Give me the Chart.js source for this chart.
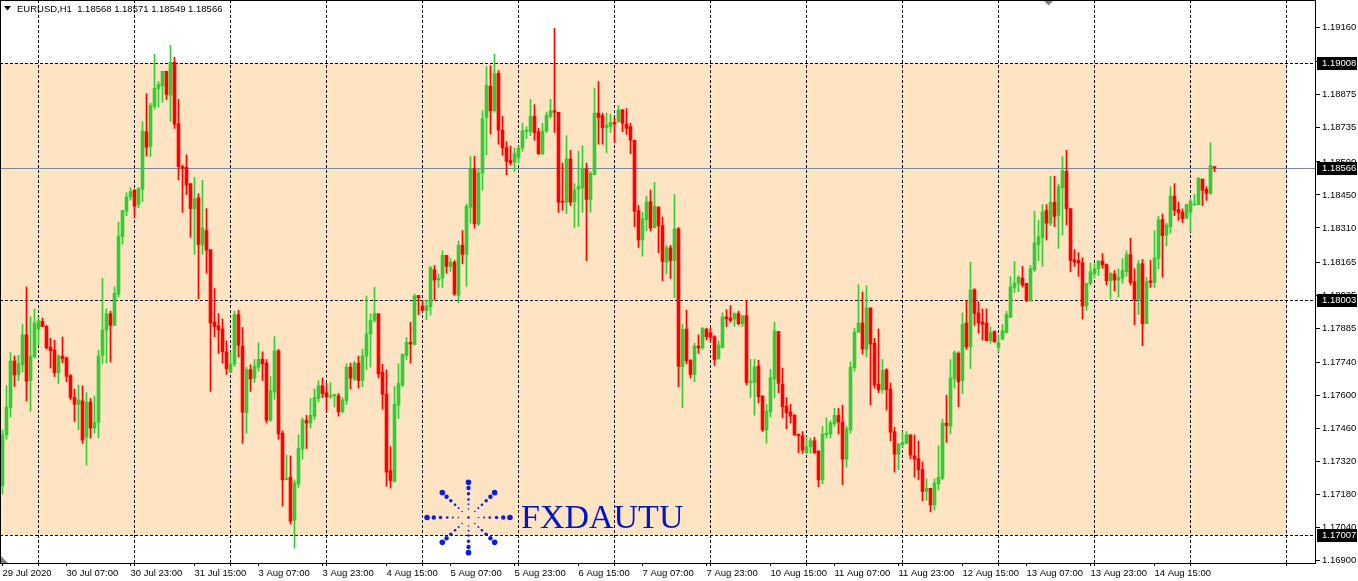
<!DOCTYPE html>
<html><head><meta charset="utf-8">
<script src="https://cdn.jsdelivr.net/npm/chart.js@4.4.1/dist/chart.umd.min.js"></script>
<style>html,body{margin:0;padding:0;background:#fff;overflow:hidden}canvas{display:block}</style>
</head><body>
<canvas id="c" width="1358" height="581"></canvas>
<script>
const symbolName = "EURUSD,H1";
const openP = [
1.17217,1.17433,1.17548,1.17746,1.17689,1.17730,1.17857,1.17663,1.17763,1.17881,1.17914,1.17892,1.17805,1.17793,1.17696,1.17767,
1.17759,1.17684,1.17591,1.17562,1.17577,1.17423,1.17572,1.17462,1.17486,1.17770,1.17878,1.17946,1.17897,1.18029,1.18273,1.18381,
1.18441,1.18470,1.18409,1.18474,1.18718,1.18656,1.18826,1.18900,1.18912,1.18974,1.18873,1.19012,1.18752,1.18570,1.18567,1.18498,
1.18392,1.18438,1.18237,1.18299,1.18218,1.17911,1.17895,1.17882,1.17785,1.17699,1.17734,1.17943,1.17809,1.17526,1.17709,1.17674,
1.17720,1.17753,1.17737,1.17495,1.17615,1.17789,1.17440,1.17243,1.17253,1.17071,1.17225,1.17373,1.17495,1.17483,1.17512,1.17587,
1.17641,1.17612,1.17594,1.17598,1.17598,1.17531,1.17579,1.17720,1.17670,1.17737,1.17663,1.17766,1.17861,1.17918,1.17946,1.17699,
1.17605,1.17282,1.17236,1.17559,1.17644,1.17770,1.17825,1.17816,1.18024,1.17979,1.17960,1.17976,1.18132,1.18091,1.18098,1.18194,
1.18147,1.18165,1.18024,1.18237,1.18198,1.18398,1.18560,1.18327,1.18543,1.18778,1.18911,1.18807,1.18965,1.18725,1.18651,1.18596,
1.18589,1.18608,1.18649,1.18718,1.18718,1.18783,1.18718,1.18625,1.18721,1.18783,1.18807,1.18800,1.18422,1.18419,1.18603,1.18421,
1.18474,1.18481,1.18560,1.18431,1.18536,1.18797,1.18787,1.18735,1.18740,1.18757,1.18761,1.18811,1.18750,1.18740,1.18682,1.18384,
1.18259,1.18345,1.18421,1.18312,1.18399,1.18320,1.18164,1.18226,1.18172,1.18306,1.17723,1.17881,1.17749,1.17689,1.17809,1.17802,
1.17881,1.17866,1.17849,1.17756,1.17802,1.17933,1.17928,1.17924,1.17947,1.17904,1.17938,1.17655,1.17655,1.17724,1.17598,1.17454,
1.17531,1.17670,1.17871,1.17648,1.17555,1.17529,1.17516,1.17436,1.17429,1.17357,1.17383,1.17408,1.17364,1.17242,1.17433,1.17437,
1.17480,1.17515,1.17487,1.17330,1.17454,1.17717,1.17868,1.17907,1.17796,1.17971,1.17821,1.17648,1.17624,1.17709,1.17627,1.17447,
1.17350,1.17390,1.17397,1.17433,1.17344,1.17332,1.17286,1.17193,1.17206,1.17136,1.17225,1.17249,1.17483,1.17469,1.17670,1.17778,
1.17663,1.17907,1.17806,1.18048,1.17950,1.17911,1.17907,1.17832,1.17871,1.17803,1.17839,1.17866,1.17931,1.18058,1.18076,1.18098,
1.18075,1.18000,1.18132,1.18240,1.18270,1.18384,1.18330,1.18419,1.18363,1.18481,1.18549,1.18392,1.18175,1.18172,1.18162,1.17979,
1.18075,1.18115,1.18137,1.18170,1.18155,1.18086,1.18115,1.18089,1.18098,1.18125,1.18197,1.18082,1.18007,1.18158,1.17904,1.18086,
1.18079,1.18180,1.18345,1.18280,1.18316,1.18445,1.18388,1.18378,1.18352,1.18376,1.18408,1.18409,1.18517,1.18474,1.18457,1.18568];
const highP = [
1.17454,1.17641,1.17782,1.17767,1.17770,1.17902,1.18060,1.17933,1.17967,1.17931,1.17928,1.17897,1.17842,1.17835,1.17773,1.17848,
1.17763,1.17689,1.17627,1.17644,1.17641,1.17612,1.17587,1.17598,1.17792,1.18096,1.17967,1.17957,1.18060,1.18335,1.18384,1.18460,
1.18481,1.18474,1.18481,1.18761,1.18879,1.18840,1.19046,1.18931,1.18974,1.18974,1.19084,1.19034,1.18855,1.18577,1.18620,1.18498,
1.18524,1.18455,1.18513,1.18392,1.18218,1.18053,1.17947,1.17924,1.17831,1.17782,1.17957,1.17961,1.17888,1.17720,1.17730,1.17753,
1.17824,1.17785,1.17752,1.17680,1.17849,1.17795,1.17450,1.17347,1.17344,1.17242,1.17433,1.17505,1.17516,1.17588,1.17627,1.17663,
1.17674,1.17651,1.17655,1.17605,1.17608,1.17591,1.17734,1.17737,1.17745,1.17767,1.17796,1.18022,1.17946,1.18058,1.17946,1.17732,
1.17709,1.17383,1.17638,1.17734,1.17775,1.17846,1.17910,1.18029,1.18024,1.18003,1.18003,1.18147,1.18151,1.18115,1.18213,1.18194,
1.18180,1.18172,1.18254,1.18299,1.18412,1.18613,1.18613,1.18560,1.18807,1.18994,1.18998,1.19046,1.18977,1.18783,1.18675,1.18658,
1.18649,1.18654,1.18754,1.18740,1.18855,1.18833,1.18732,1.18754,1.18801,1.18855,1.19156,1.18800,1.18585,1.18701,1.18639,1.18498,
1.18635,1.18658,1.18585,1.18549,1.18902,1.18931,1.18797,1.18797,1.18793,1.18776,1.18829,1.18811,1.18816,1.18754,1.18682,1.18405,
1.18376,1.18445,1.18471,1.18503,1.18399,1.18356,1.18237,1.18237,1.18452,1.18312,1.17902,1.17961,1.17752,1.17821,1.17857,1.17888,
1.17885,1.17885,1.17854,1.17831,1.17950,1.17964,1.17981,1.17950,1.17957,1.17938,1.18003,1.17753,1.17753,1.17749,1.17598,1.17562,
1.17710,1.17911,1.17871,1.17716,1.17591,1.17562,1.17519,1.17436,1.17447,1.17423,1.17419,1.17423,1.17366,1.17469,1.17505,1.17493,
1.17545,1.17545,1.17559,1.17469,1.17742,1.17885,1.18069,1.18039,1.18065,1.17971,1.17842,1.17882,1.17752,1.17713,1.17653,1.17465,
1.17397,1.17447,1.17447,1.17433,1.17433,1.17407,1.17318,1.17246,1.17206,1.17246,1.17386,1.17500,1.17601,1.17752,1.17789,1.17785,
1.17950,1.18003,1.18165,1.18053,1.17997,1.17967,1.17967,1.17890,1.17874,1.17857,1.17900,1.17957,1.18104,1.18168,1.18108,1.18147,
1.18075,1.18151,1.18381,1.18342,1.18409,1.18409,1.18529,1.18529,1.18496,1.18613,1.18639,1.18392,1.18218,1.18205,1.18184,1.18076,
1.18162,1.18158,1.18172,1.18201,1.18158,1.18119,1.18129,1.18137,1.18180,1.18213,1.18266,1.18137,1.18172,1.18177,1.18101,1.18172,
1.18299,1.18359,1.18369,1.18330,1.18485,1.18498,1.18419,1.18391,1.18412,1.18431,1.18452,1.18524,1.18517,1.18485,1.18672,1.18571];
const lowP = [
1.17182,1.17414,1.17509,1.17638,1.17663,1.17699,1.17577,1.17533,1.17759,1.17816,1.17892,1.17796,1.17716,1.17680,1.17651,1.17739,
1.17658,1.17581,1.17490,1.17454,1.17397,1.17304,1.17419,1.17440,1.17419,1.17734,1.17737,1.17742,1.17897,1.18017,1.18241,1.18362,
1.18428,1.18352,1.18395,1.18421,1.18615,1.18613,1.18814,1.18822,1.18843,1.18855,1.18761,1.18732,1.18514,1.18376,1.18452,1.18270,
1.18198,1.18010,1.18198,1.18118,1.17617,1.17849,1.17778,1.17737,1.17689,1.17699,1.17723,1.17763,1.17397,1.17440,1.17617,1.17655,
1.17703,1.17663,1.17483,1.17490,1.17584,1.17414,1.17131,1.17242,1.17055,1.16952,1.17210,1.17330,1.17375,1.17462,1.17498,1.17572,
1.17591,1.17533,1.17587,1.17551,1.17512,1.17526,1.17562,1.17627,1.17663,1.17631,1.17637,1.17709,1.17720,1.17911,1.17674,1.17541,
1.17215,1.17207,1.17232,1.17502,1.17637,1.17752,1.17737,1.17813,1.17943,1.17960,1.17921,1.17940,1.18004,1.18058,1.18058,1.18118,
1.18126,1.18024,1.17993,1.18158,1.18062,1.18330,1.18309,1.18320,1.18470,1.18620,1.18708,1.18801,1.18665,1.18618,1.18536,1.18577,
1.18550,1.18586,1.18635,1.18689,1.18701,1.18682,1.18622,1.18620,1.18715,1.18776,1.18715,1.18376,1.18385,1.18371,1.18405,1.18312,
1.18316,1.18376,1.18172,1.18376,1.18536,1.18665,1.18665,1.18628,1.18715,1.18672,1.18758,1.18718,1.18707,1.18625,1.18316,1.18227,
1.18190,1.18299,1.18297,1.18309,1.18205,1.18086,1.18115,1.18096,1.18014,1.17637,1.17548,1.17734,1.17674,1.17658,1.17778,1.17795,
1.17835,1.17832,1.17727,1.17753,1.17802,1.17892,1.17911,1.17892,1.17900,1.17892,1.17645,1.17591,1.17516,1.17569,1.17447,1.17397,
1.17509,1.17591,1.17612,1.17505,1.17459,1.17483,1.17430,1.17357,1.17354,1.17354,1.17354,1.17354,1.17213,1.17225,1.17419,1.17419,
1.17469,1.17437,1.17222,1.17296,1.17440,1.17703,1.17868,1.17775,1.17763,1.17559,1.17631,1.17612,1.17610,1.17538,1.17408,1.17275,
1.17285,1.17383,1.17394,1.17332,1.17253,1.17242,1.17153,1.17156,1.17106,1.17114,1.17199,1.17243,1.17401,1.17437,1.17631,1.17552,
1.17608,1.17795,1.17713,1.17897,1.17864,1.17835,1.17832,1.17821,1.17825,1.17785,1.17835,1.17864,1.17931,1.18036,1.18040,1.18060,
1.17997,1.18000,1.18125,1.18172,1.18147,1.18259,1.18320,1.18316,1.18223,1.18280,1.18323,1.18125,1.18147,1.18105,1.17924,1.17960,
1.18068,1.18098,1.18108,1.18139,1.18068,1.18010,1.18043,1.18017,1.18075,1.18105,1.18068,1.17900,1.17943,1.17811,1.17904,1.18058,
1.18058,1.18137,1.18101,1.18234,1.18287,1.18362,1.18342,1.18333,1.18348,1.18295,1.18405,1.18409,1.18405,1.18427,1.18452,1.18549];
const closeP = [
1.17433,1.17551,1.17746,1.17687,1.17734,1.17857,1.17660,1.17767,1.17907,1.17917,1.17892,1.17802,1.17790,1.17696,1.17767,1.17756,
1.17681,1.17591,1.17562,1.17581,1.17411,1.17572,1.17462,1.17486,1.17767,1.17878,1.17946,1.17897,1.18033,1.18276,1.18384,1.18441,
1.18464,1.18402,1.18477,1.18721,1.18652,1.18829,1.18902,1.18919,1.18974,1.18876,1.19012,1.18750,1.18570,1.18563,1.18491,1.18392,
1.18434,1.18240,1.18309,1.18216,1.17907,1.17892,1.17878,1.17785,1.17713,1.17734,1.17943,1.17813,1.17529,1.17709,1.17670,1.17724,
1.17753,1.17734,1.17495,1.17620,1.17789,1.17437,1.17242,1.17249,1.17067,1.17228,1.17375,1.17495,1.17483,1.17516,1.17591,1.17641,
1.17608,1.17594,1.17601,1.17605,1.17531,1.17581,1.17720,1.17673,1.17737,1.17663,1.17767,1.17861,1.17918,1.17947,1.17691,1.17605,
1.17275,1.17239,1.17562,1.17651,1.17775,1.17825,1.17818,1.18022,1.18014,1.17960,1.17979,1.18141,1.18089,1.18098,1.18194,1.18147,
1.18165,1.18029,1.18237,1.18198,1.18402,1.18560,1.18327,1.18543,1.18773,1.18915,1.18807,1.18965,1.18725,1.18649,1.18592,1.18585,
1.18625,1.18649,1.18721,1.18725,1.18783,1.18714,1.18625,1.18721,1.18787,1.18807,1.18800,1.18419,1.18419,1.18603,1.18419,1.18471,
1.18485,1.18560,1.18431,1.18541,1.18797,1.18778,1.18735,1.18747,1.18757,1.18751,1.18809,1.18754,1.18732,1.18682,1.18381,1.18259,
1.18349,1.18421,1.18309,1.18402,1.18319,1.18168,1.18226,1.18172,1.18306,1.17723,1.17881,1.17746,1.17689,1.17809,1.17802,1.17885,
1.17849,1.17846,1.17752,1.17813,1.17933,1.17925,1.17918,1.17947,1.17904,1.17938,1.17655,1.17658,1.17720,1.17594,1.17454,1.17533,
1.17674,1.17874,1.17651,1.17552,1.17526,1.17512,1.17433,1.17430,1.17368,1.17383,1.17408,1.17357,1.17242,1.17436,1.17440,1.17483,
1.17515,1.17487,1.17330,1.17459,1.17720,1.17868,1.17907,1.17796,1.17971,1.17818,1.17644,1.17624,1.17706,1.17624,1.17444,1.17351,
1.17393,1.17401,1.17433,1.17347,1.17330,1.17285,1.17193,1.17206,1.17136,1.17228,1.17253,1.17483,1.17472,1.17674,1.17782,1.17658,
1.17902,1.17806,1.18048,1.17947,1.17907,1.17902,1.17832,1.17866,1.17828,1.17824,1.17874,1.17943,1.18060,1.18076,1.18101,1.18068,
1.18003,1.18137,1.18247,1.18273,1.18378,1.18330,1.18419,1.18359,1.18484,1.18553,1.18391,1.18172,1.18165,1.18161,1.17979,1.18076,
1.18125,1.18137,1.18170,1.18154,1.18086,1.18119,1.18089,1.18101,1.18129,1.18197,1.18079,1.18007,1.18158,1.17904,1.18082,1.18079,
1.18183,1.18345,1.18277,1.18323,1.18445,1.18385,1.18376,1.18349,1.18409,1.18424,1.18412,1.18521,1.18470,1.18457,1.18575,1.18566];

const timeLabels = ["29 Jul 2020","30 Jul 07:00","30 Jul 23:00","31 Jul 15:00","3 Aug 07:00","3 Aug 23:00","4 Aug 15:00",
  "5 Aug 07:00","5 Aug 23:00","6 Aug 15:00","7 Aug 07:00","7 Aug 23:00","10 Aug 15:00","11 Aug 07:00","11 Aug 23:00",
  "12 Aug 15:00","13 Aug 07:00","13 Aug 23:00","14 Aug 15:00"];
const priceTicks = [1.19160,1.19015,1.18875,1.18735,1.18590,1.18450,1.18310,1.18165,1.18025,1.17885,1.17740,1.17600,1.17460,1.17320,1.17180,1.17040,1.16900];
const levelLines = [1.19008, 1.18003, 1.17007];
const zoneTop = 1.19008, zoneBottom = 1.17007;
const bidPrice = 1.18566;

// layout constants (bar positions of labels / day separators)
const labelFirstBar = 0, labelStep = 16;
const gridFirstBar = 9, gridStep = 24, gridCount = 14;
const zoneEndBar = 321;
const xMin = -0.625, xMax = 328.375;
const yMin = 1.168896, yMax = 1.192764;
const FONT = '"Liberation Sans", Arial, sans-serif';
const FSIZE = 9.5;

const N = openP.length;
const idx = Array.from({length: N}, (_, i) => i);
const candleColors = idx.map(i => closeP[i] >= openP[i] ? '#32CD32' : '#FF0000');

const labelBars = timeLabels.map((t, k) => labelFirstBar + k * labelStep);
const gridBars = Array.from({length: gridCount}, (_, k) => gridFirstBar + k * gridStep);

const mtPlugin = {
  id: 'mt4look',
  beforeDraw(chart) {
    const {ctx, chartArea: a, scales: {x, y}} = chart;
    ctx.save();
    ctx.fillStyle = '#fff';
    ctx.fillRect(0, 0, chart.width, chart.height);
    const yt = Math.round(y.getPixelForValue(zoneTop));
    const yb = Math.round(y.getPixelForValue(zoneBottom));
    const xr = Math.round(x.getPixelForValue(zoneEndBar));
    ctx.fillStyle = '#FFE4C4';
    ctx.fillRect(a.left, yt, xr - a.left, yb - yt);
    ctx.restore();
  },
  beforeDatasetsDraw(chart) {
    const {ctx, chartArea: a, scales: {y}} = chart;
    ctx.save();
    ctx.lineWidth = 1;
    ctx.strokeStyle = '#000';
    ctx.setLineDash([3, 2]);
    levelLines.forEach(v => {
      const py = Math.round(y.getPixelForValue(v)) + 0.5;
      ctx.beginPath(); ctx.moveTo(a.left, py); ctx.lineTo(a.right, py); ctx.stroke();
    });
    ctx.setLineDash([]);
    ctx.strokeStyle = '#778899';
    const pb = Math.round(y.getPixelForValue(bidPrice)) + 0.5;
    ctx.beginPath(); ctx.moveTo(a.left, pb); ctx.lineTo(a.right, pb); ctx.stroke();
    ctx.restore();
  },
  afterDatasetsDraw(chart) {
    const {ctx} = chart;
    ctx.save();
    // logo
    const cx = 468.5, cy = 517.5;
    ctx.fillStyle = '#0A1EDC';
    const rs = [9, 14, 19, 25, 31, 37];
    const rr = [0.8, 1.0, 1.3, 1.7, 2.2, 2.8];
    for (let k = 0; k < 8; k++) {
      const ang = k * Math.PI / 4;
      const ext = (k % 4 === 0) ? 1.12 : 1;
      rs.forEach((r, j) => {
        ctx.beginPath();
        ctx.arc(cx + Math.cos(ang) * r * ext, cy + Math.sin(ang) * r * 0.95, rr[j], 0, Math.PI * 2);
        ctx.fill();
      });
    }
    ctx.beginPath(); ctx.arc(cx, cy, 1.3, 0, Math.PI * 2); ctx.fill();
    ctx.fillStyle = '#0014C8';
    ctx.font = '34px "Liberation Serif", "Times New Roman", serif';
    ctx.textBaseline = 'alphabetic';
    ctx.textAlign = 'left';
    ctx.fillText('FXDAUTU', 521, 528);
    ctx.restore();
  },
  afterDraw(chart) {
    const {ctx, chartArea: a, scales: {y}} = chart;
    ctx.save();
    // frame
    ctx.strokeStyle = '#000';
    ctx.lineWidth = 1;
    ctx.strokeRect(a.left + 0.5, a.top + 0.5, a.right - a.left - 1, a.bottom - a.top);
    // price boxes
    ctx.font = FSIZE + 'px ' + FONT;
    ctx.textBaseline = 'middle';
    ctx.textAlign = 'left';
    [...levelLines, bidPrice].forEach(v => {
      const py = Math.round(y.getPixelForValue(v));
      ctx.fillStyle = '#000';
      ctx.fillRect(a.right + 1, py - 6, 40, 13);
      ctx.fillStyle = '#fff';
      ctx.fillText(v.toFixed(5), a.right + 6, py + 0.5);
    });
    // header
    ctx.fillStyle = '#000';
    ctx.beginPath(); ctx.moveTo(4, 6); ctx.lineTo(11, 6); ctx.lineTo(7.5, 10.5); ctx.closePath(); ctx.fill();
    const last = N - 1;
    const header = symbolName + '  ' + [openP[last], highP[last], lowP[last], closeP[last]].map(v => v.toFixed(5)).join(' ');
    ctx.fillText(header, 17, 9);
    // shift markers
    ctx.fillStyle = '#808080';
    ctx.beginPath(); ctx.moveTo(1044, 1); ctx.lineTo(1053, 1); ctx.lineTo(1048.5, 5.5); ctx.closePath(); ctx.fill();
    ctx.beginPath(); ctx.moveTo(1, 556); ctx.lineTo(1, 563); ctx.lineTo(8, 563); ctx.closePath(); ctx.fill();
    ctx.restore();
  }
};

new Chart(document.getElementById('c'), {
  type: 'bar',
  data: {
    datasets: [
      { label: 'range', data: idx.map(i => ({x: i, y: [lowP[i], highP[i]]})), backgroundColor: candleColors,
        barThickness: 1, minBarLength: 1, grouped: false, order: 2, borderWidth: 0, xAxisID: 'x', yAxisID: 'y' },
      { label: 'body', data: idx.map(i => ({x: i, y: [openP[i], closeP[i]]})), backgroundColor: candleColors,
        barThickness: 3, minBarLength: 1, grouped: false, order: 1, borderWidth: 0, xAxisID: 'x', yAxisID: 'y' }
    ]
  },
  options: {
    responsive: false, animation: false, devicePixelRatio: 1,
    layout: {padding: 0},
    plugins: {legend: {display: false}, tooltip: {enabled: false}, title: {display: false}},
    scales: {
      x: {
        type: 'linear', position: 'bottom', weight: 0, min: xMin, max: xMax, offset: false, bounds: 'data',
        afterBuildTicks: s => { s.ticks = gridBars.map(v => ({value: v})); },
        afterFit: s => { s.height = 0; s.paddingLeft = 0; s.paddingRight = 0; },
        ticks: {display: false, autoSkip: false},
        grid: {display: true, offset: false, drawOnChartArea: true, drawTicks: true, tickLength: 3, lineWidth: 1,
               color: '#000', tickColor: '#000'},
        border: {display: false, dash: [3, 2]}
      },
      xt: {
        type: 'linear', position: 'bottom', weight: 1, min: xMin, max: xMax, offset: false, bounds: 'data',
        afterBuildTicks: s => { s.ticks = labelBars.map(v => ({value: v})); },
        afterFit: s => { s.height = 18; s.paddingLeft = 0; s.paddingRight = 0; },
        ticks: {autoSkip: false, maxRotation: 0, minRotation: 0, padding: 2, align: 'start', color: '#000',
          font: {family: FONT, size: FSIZE},
          callback: v => { const k = labelBars.indexOf(v); return k >= 0 ? timeLabels[k] : ''; }},
        grid: {display: true, offset: false, drawOnChartArea: false, drawTicks: true, tickLength: 3, tickColor: '#000', color: '#000'},
        border: {display: false}
      },
      y: {
        type: 'linear', position: 'right', min: yMin, max: yMax, bounds: 'data',
        afterBuildTicks: s => { s.ticks = priceTicks.map(v => ({value: v})); },
        afterFit: s => { s.width = 42; s.paddingTop = 0; s.paddingBottom = 0; },
        ticks: {autoSkip: false, padding: 2, color: '#000', font: {family: FONT, size: FSIZE},
          callback: v => Number(v).toFixed(5)},
        grid: {drawOnChartArea: false, drawTicks: true, tickLength: 4, tickColor: '#000'},
        border: {display: false}
      }
    }
  },
  plugins: [mtPlugin]
});
</script>
</body></html>
